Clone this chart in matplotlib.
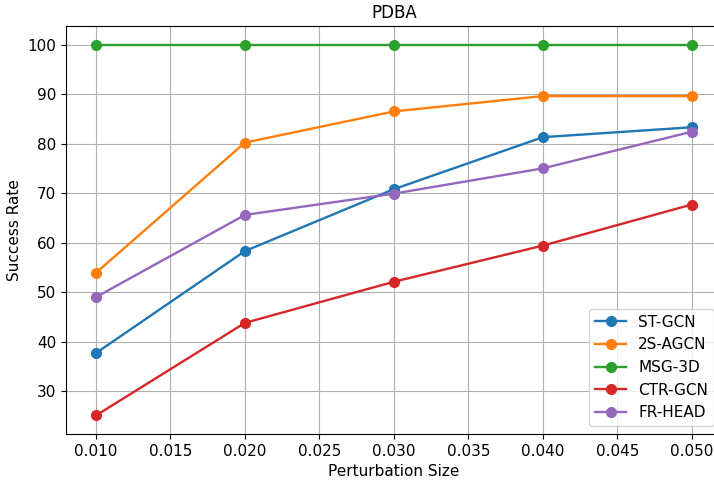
import matplotlib
matplotlib.use('Agg')
import matplotlib.pyplot as plt

sizes = [0.01, 0.02, 0.03, 0.04, 0.05]
st_gcn = [37.7, 58.3, 70.8, 81.3, 83.3]
agcn_2s = [53.9, 80.2, 86.5, 89.6, 89.6]
msg_3d = [100, 100, 100, 100, 100]
ctr_gcn = [25.1, 43.8, 52.1, 59.4, 67.7]
fr_head = [49.0, 65.6, 69.9, 75.0, 82.4]

plt.rcParams['font.size'] = 11

fig = plt.figure(figsize=(7.14, 4.8), dpi=100)
ax = fig.add_axes([0.0927, 0.0958, 0.918, 0.85])

for vals, name in [(st_gcn, 'ST-GCN'), (agcn_2s, '2S-AGCN'), (msg_3d, 'MSG-3D'),
                   (ctr_gcn, 'CTR-GCN'), (fr_head, 'FR-HEAD')]:
    ax.plot(sizes, vals, marker='o', markersize=7, linewidth=1.7, label=name)

ax.set_xlabel('Perturbation Size')
ax.set_ylabel('Success Rate')
ax.set_title('PDBA', fontsize=12)
ax.tick_params(labelsize=11)
ax.grid(True)
ax.legend(loc='lower right', fontsize=11)

fig.savefig('out.png')
